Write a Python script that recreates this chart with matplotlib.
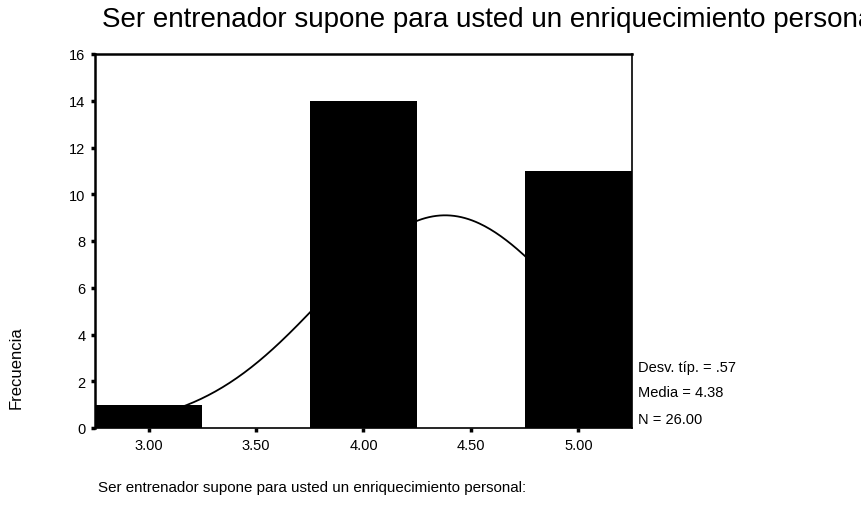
import matplotlib.pyplot as plt
import numpy as np

plt.rcParams['font.family'] = ['Liberation Sans', 'DejaVu Sans']

# histogram data (SPSS output)
values = [3.0, 4.0, 5.0]
counts = [1, 14, 11]
bin_width = 0.5
tick_vals = [3.0, 3.5, 4.0, 4.5, 5.0]
tick_labels = ['3.00', '3.50', '4.00', '4.50', '5.00']
std_dev = 0.57
mean = 4.38
n = 26

fig = plt.figure(figsize=(8.62, 5.06), dpi=100)
ax = fig.add_axes([95/862, 1 - 429/506, 537/862, 374/506])

# normal curve drawn behind the bars
xs = np.linspace(2.75, 5.25, 300)
ys = n * bin_width * np.exp(-0.5 * ((xs - mean) / std_dev) ** 2) / (std_dev * np.sqrt(2 * np.pi))
ax.plot(xs, ys, color='black', linewidth=1.3, zorder=1)

ax.bar(values, counts, width=bin_width, color='black', zorder=2)

ax.set_xlim(2.75, 5.25)
ax.set_ylim(0, 16)
ax.set_yticks(range(0, 17, 2))
ax.set_xticks(tick_vals)
ax.set_xticklabels(tick_labels)
ax.tick_params(direction='out', length=3, width=2.5, labelsize=10.5, pad=4)
for side in ['left', 'top']:
    ax.spines[side].set_linewidth(1.8)
for side in ['right', 'bottom']:
    ax.spines[side].set_linewidth(1.2)

fig.text(102/862, 1 - 20/506, 'Ser entrenador supone para usted un enriquecimiento personal:',
         fontsize=20, va='center', ha='left')
fig.text(98/862, 1 - 488/506, 'Ser entrenador supone para usted un enriquecimiento personal:',
         fontsize=10.9, va='center', ha='left')
fig.text(16/862, 1 - 368/506, 'Frecuencia', fontsize=12, rotation=90, va='center', ha='center')

fig.text(638/862, 1 - 368/506, 'Desv. típ. = .57', fontsize=10.5, va='center', ha='left')
fig.text(638/862, 1 - 393/506, 'Media = 4.38', fontsize=10.5, va='center', ha='left')
fig.text(638/862, 1 - 420/506, 'N = 26.00', fontsize=10.5, va='center', ha='left')

plt.savefig('out.png', dpi=100)
plt.close()
